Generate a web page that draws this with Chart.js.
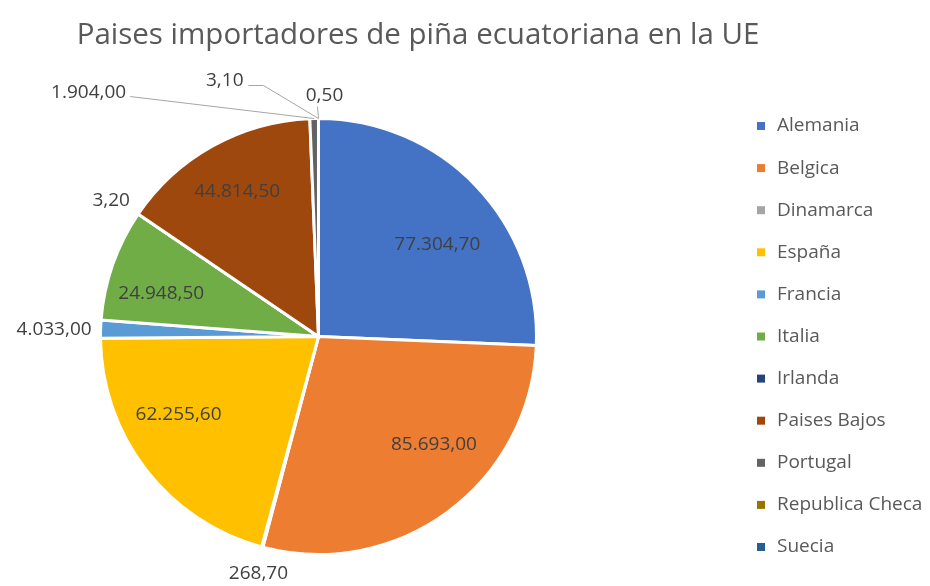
<html>
    <head>
        <meta charset="utf-8">
        <script src="https://cdn.jsdelivr.net/npm/chart.js@4"></script>
        <style>
            body { margin: 0; background: #fff; }
            #wrap { width: 930px; height: 586px; }
        </style>
    </head>
    <body>
        <div id="wrap"><canvas id="myChart"></canvas></div>

        <script>
            // Datos del grafico
            var chartTitle = 'Paises importadores de piña ecuatoriana en la UE';
            var labels = ['Alemania', 'Belgica', 'Dinamarca', 'España', 'Francia', 'Italia',
                          'Irlanda', 'Paises Bajos', 'Portugal', 'Republica Checa', 'Suecia'];
            var importaciones = [77304.70, 85693.00, 268.70, 62255.60, 4033.00, 24948.50,
                                 3.20, 44814.50, 1904.00, 3.10, 0.50];
            var colores = ['#4472C4', '#ED7D31', '#A5A5A5', '#FFC000', '#5B9BD5', '#70AD47',
                           '#264478', '#9E480E', '#636363', '#997300', '#255E91'];

            // donde va cada etiqueta (dentro / fuera) y un pequeño ajuste en px
            var labelPlacement = [
                { inside: true, dx: 4, dy: 18 },
                { inside: true, dx: 21, dy: -20 },
                { inside: false, align: 'center', dx: -4, dy: 27 },
                { inside: true, dx: -14, dy: -19 },
                { inside: false, align: 'right', dx: -10, dy: 0 },
                { inside: true, dx: -7, dy: 10 },
                { inside: false, align: 'right', dx: -9, dy: -14 },
                { inside: true, dx: -4, dy: -6 },
                { inside: false, align: 'right', dx: -188, dy: -27, line: [[4, 4]] },
                { inside: false, align: 'right', dx: -75, dy: -39, line: [[5, 5], [20, 5]] },
                { inside: false, align: 'center', dx: 6, dy: -24, line: [[-7, 11]] }
            ];

            function formatEs(v) {
                var parts = v.toFixed(2).split('.');
                var ent = parts[0].replace(/\B(?=(\d{3})+(?!\d))/g, '.');
                return ent + ',' + parts[1];
            }

            var FONT = '"Open Sans", "DejaVu Sans", sans-serif';

            var valueLabels = {
                id: 'valueLabels',
                afterDatasetsDraw: function(chart) {
                    var ctx = chart.ctx;
                    var meta = chart.getDatasetMeta(0);
                    var data = chart.data.datasets[0].data;
                    ctx.save();
                    ctx.font = '19px ' + FONT;
                    ctx.textBaseline = 'middle';
                    meta.data.forEach(function(arc, i) {
                        var p = arc.getProps(['x', 'y', 'startAngle', 'endAngle', 'outerRadius'], true);
                        var mid = (p.startAngle + p.endAngle) / 2;
                        var pl = labelPlacement[i];
                        var txt = formatEs(data[i]);
                        var lx, ly;
                        if (pl.inside) {
                            var r = p.outerRadius * 0.73;
                            lx = p.x + Math.cos(mid) * r + pl.dx;
                            ly = p.y + Math.sin(mid) * r + pl.dy;
                            ctx.textAlign = 'center';
                        } else {
                            var ex = p.x + Math.cos(mid) * (p.outerRadius - 1);
                            var ey = p.y + Math.sin(mid) * (p.outerRadius - 1);
                            lx = ex + pl.dx;
                            ly = ey + pl.dy;
                            ctx.textAlign = pl.align;
                            if (pl.line) {
                                ctx.strokeStyle = '#A6A6A6';
                                ctx.lineWidth = 1;
                                ctx.beginPath();
                                pl.line.forEach(function(pt, k) {
                                    if (k === 0) ctx.moveTo(lx + pt[0], ly + pt[1]);
                                    else ctx.lineTo(lx + pt[0], ly + pt[1]);
                                });
                                ctx.lineTo(ex, ey - 1);
                                ctx.stroke();
                            }
                        }
                        ctx.fillStyle = '#404040';
                        ctx.fillText(txt, lx, ly);
                    });
                    ctx.restore();
                }
            };

            // titulo y leyenda dibujados a mano para colocarlos como en Excel
            var titleAndLegend = {
                id: 'titleAndLegend',
                afterDraw: function(chart) {
                    var ctx = chart.ctx;
                    ctx.save();
                    ctx.fillStyle = '#595959';
                    ctx.font = '29.5px ' + FONT;
                    ctx.textAlign = 'center';
                    ctx.textBaseline = 'alphabetic';
                    ctx.fillText(chartTitle, 418, 44);

                    ctx.font = '19px ' + FONT;
                    ctx.textAlign = 'left';
                    ctx.textBaseline = 'middle';
                    chart.data.labels.forEach(function(lbl, i) {
                        var y = 126 + i * 42.1;
                        ctx.fillStyle = colores[i];
                        ctx.fillRect(757, y - 4, 8, 8);
                        ctx.fillStyle = '#595959';
                        ctx.fillText(lbl, 777, y);
                    });
                    ctx.restore();
                }
            };

            var ctx = document.getElementById('myChart').getContext('2d');
            var chart = new Chart(ctx, {
                type: 'pie',
                data: {
                    labels: labels,
                    datasets: [{
                        data: importaciones,
                        backgroundColor: colores,
                        borderColor: '#FFFFFF',
                        borderWidth: 3
                    }]
                },
                options: {
                    responsive: true,
                    maintainAspectRatio: false,
                    animation: false,
                    layout: {
                        padding: { left: 99, right: 392, top: 117, bottom: 30 }
                    },
                    plugins: {
                        legend: { display: false },
                        title: { display: false },
                        tooltip: { enabled: false }
                    }
                },
                plugins: [valueLabels, titleAndLegend]
            });
        </script>
    </body>
</html>
